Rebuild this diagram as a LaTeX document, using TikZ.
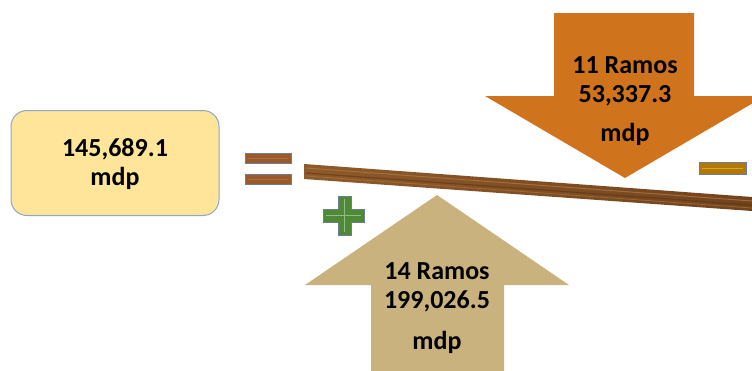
\documentclass[tikz,border=0pt]{standalone}
\usepackage{fontspec}
\setmainfont{Carlito}
\begin{document}
\begin{tikzpicture}[x=1pt,y=-1pt,
  lbl/.style={font=\fontsize{26}{29}\selectfont\bfseries, align=center, text=black}]
\definecolor{boxfill}{HTML}{FFE599}
\definecolor{boxedge}{HTML}{8DA7C4}
\definecolor{orangearr}{HTML}{CF741D}
\definecolor{tanarr}{HTML}{C9B27D}
\definecolor{wood}{HTML}{8E5A2A}
\definecolor{wooddark}{HTML}{5E3415}
\definecolor{woodlight}{HTML}{B07B45}
\definecolor{eqbar}{HTML}{9A5A2B}
\definecolor{plusgreen}{HTML}{4E8A35}
\definecolor{minusgold}{HTML}{B2780E}
\definecolor{signedge}{HTML}{6A7F95}
\useasboundingbox (0,0) rectangle (752,370);
\fill[white] (0,0) rectangle (752,370);

% left box
\node[draw=boxedge, fill=boxfill, line width=1pt, rounded corners=16pt,
      minimum width=208pt, minimum height=105pt, inner sep=0pt] (total) at (115,163) {};
\node[lbl] (totaltxt) at (115,164) {145,689.1\\mdp};

% equal sign
\path[draw=signedge, fill=eqbar, line width=1pt] (245,153) rectangle (291,163);
\path[draw=signedge, fill=eqbar, line width=1pt] (245,174) rectangle (291,184);
\draw[woodlight!70!eqbar, line width=0.8pt] (248,158) -- (288,158);
\draw[woodlight!70!eqbar, line width=0.8pt] (248,179) -- (288,179);

% plank
\path[left color=wood, right color=wooddark!60!wood] (304,164) -- (752,197) -- (752,211) -- (304,179) -- cycle;
\draw[woodlight, line width=1pt, opacity=0.7] (306,168) -- (752,201);
\draw[wooddark, line width=1.2pt, opacity=0.6] (306,173) -- (752,205);
\draw[woodlight, line width=0.8pt, opacity=0.6] (306,176) -- (752,208);

% plus sign
\path[draw=signedge, fill=plusgreen, line width=1pt]
  (338,196) -- (351,196) -- (351,209) -- (364,209) -- (364,222) -- (351,222) -- (351,235)
  -- (338,235) -- (338,222) -- (323,222) -- (323,209) -- (338,209) -- cycle;
\draw[plusgreen!60!white, line width=0.7pt] (344.5,199) -- (344.5,232) (326,215.5) -- (361,215.5);

% minus sign
\path[draw=signedge, fill=minusgold, line width=1pt] (699,162) rectangle (746,174);
\draw[minusgold!60!yellow, line width=0.7pt] (702,168) -- (743,168);

% orange arrow (down)
\path[fill=orangearr] (554,13) -- (694,13) -- (694,96) -- (765,96) -- (625,178) -- (485,96) -- (554,96) -- cycle;
\node[lbl] (downtxt) at (625,81) {11 Ramos\\53,337.3};
\node[lbl] (downmdp) at (625,134) {mdp};

% tan arrow (up)
\path[fill=tanarr] (437,195) -- (569,285) -- (504,285) -- (504,372) -- (371,372) -- (371,285) -- (305,285) -- cycle;
\node[lbl] (uptxt) at (437,287) {14 Ramos\\199,026.5};
\node[lbl] (upmdp) at (437,342) {mdp};
\end{tikzpicture}
\end{document}
